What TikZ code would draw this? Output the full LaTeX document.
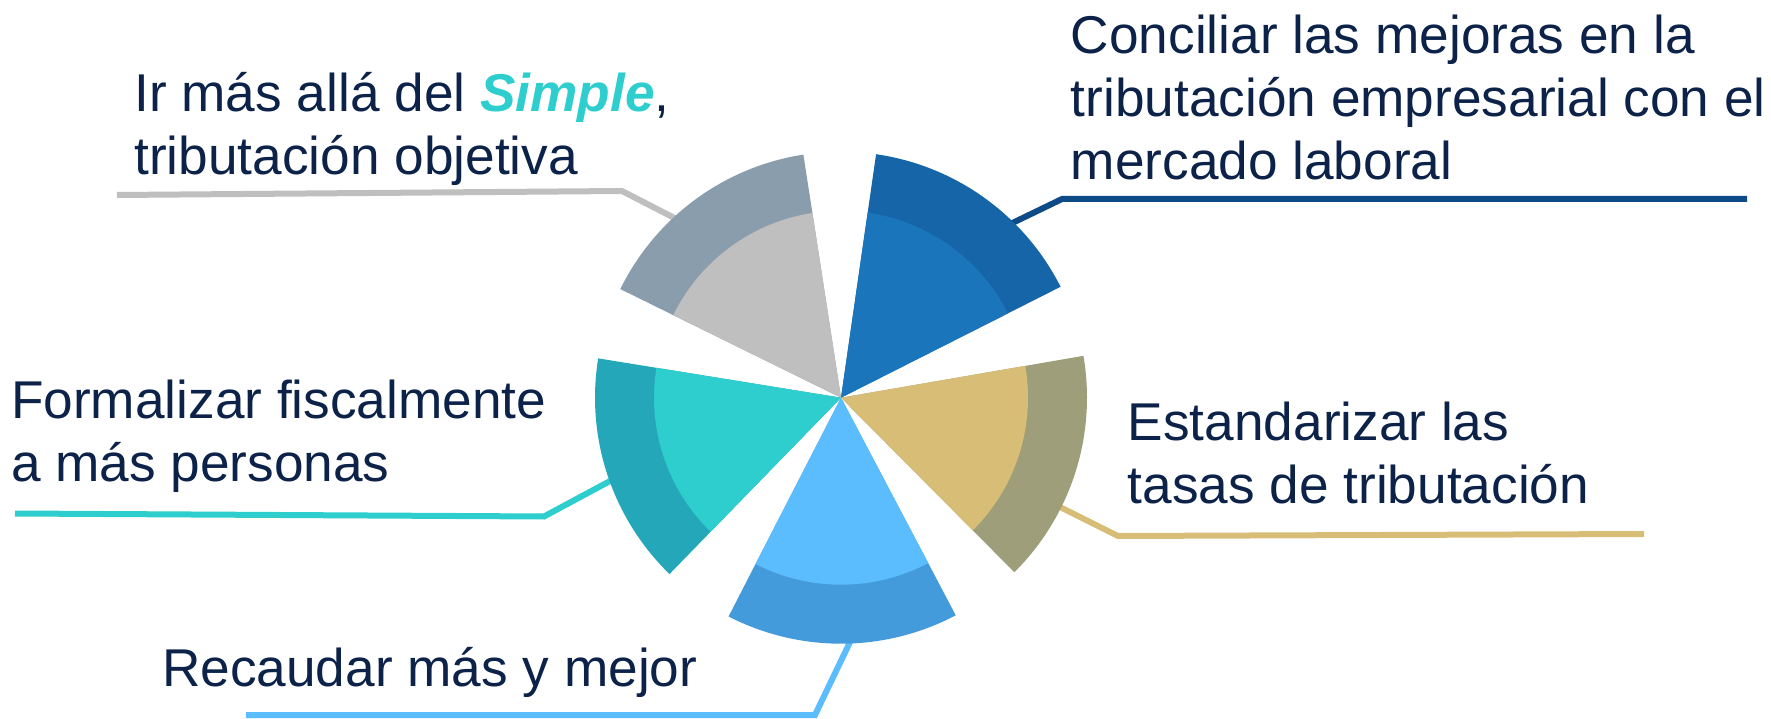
\documentclass[tikz,border=0pt]{standalone}
\usepackage{fontspec}
\setmainfont{Liberation Sans}

\definecolor{textnavy}{HTML}{0C2248}
\definecolor{conciliarout}{HTML}{1565A8}
\definecolor{conciliarin}{HTML}{1B75BB}
\definecolor{conciliarline}{HTML}{0D4A86}
\definecolor{simpleout}{HTML}{8A9DAD}
\definecolor{simplein}{HTML}{BFBFBF}
\definecolor{formalout}{HTML}{24A7B8}
\definecolor{formalin}{HTML}{2ECDCE}
\definecolor{recaudarout}{HTML}{449BDB}
\definecolor{recaudarin}{HTML}{5BBCFE}
\definecolor{tasasout}{HTML}{9E9E7A}
\definecolor{tasasin}{HTML}{D7BD76}

\tikzset{
	goaltext/.style={anchor=base west, inner sep=0pt, align=left, text=textnavy,
		font=\fontsize{26.6}{31.65}\selectfont},
	leader/.style={line width=3pt, line join=miter}
}

\begin{document}
\begin{tikzpicture}[x=0.5pt, y=0.5pt]
	\useasboundingbox (0,0) rectangle (1771,718);

	\coordinate (simple-a) at (117,523);
	\coordinate (simple-b) at (622,527);
	\coordinate (simple-c) at (690,492);
	\draw[leader, simplein] (simple-a) -- (simple-b) -- (simple-c);

	\coordinate (conciliar-a) at (1747,519);
	\coordinate (conciliar-b) at (1062,519);
	\coordinate (conciliar-c) at (1000,489);
	\draw[leader, conciliarline] (conciliar-a) -- (conciliar-b) -- (conciliar-c);

	\coordinate (formal-a) at (15,204.5);
	\coordinate (formal-b) at (544,201.5);
	\coordinate (formal-c) at (625,245);
	\draw[leader, formalin] (formal-a) -- (formal-b) -- (formal-c);

	\coordinate (recaudar-a) at (246,3);
	\coordinate (recaudar-b) at (815,3);
	\coordinate (recaudar-c) at (851,78);
	\draw[leader, recaudarin] (recaudar-a) -- (recaudar-b) -- (recaudar-c);

	\coordinate (tasas-a) at (1644,184);
	\coordinate (tasas-b) at (1118,182);
	\coordinate (tasas-c) at (1040,221);
	\draw[leader, tasasin] (tasas-a) -- (tasas-b) -- (tasas-c);

	\begin{scope}[shift={(841,320.3)}]
		\fill[conciliarout] (0,0) -- (26.8:246) arc[start angle=26.8, end angle=81.8, radius=246] -- cycle;
		\fill[conciliarin] (0,0) -- (26.8:187) arc[start angle=26.8, end angle=81.8, radius=187] -- cycle;

		\fill[simpleout] (0,0) -- (98.8:246) arc[start angle=98.8, end angle=153.8, radius=246] -- cycle;
		\fill[simplein] (0,0) -- (98.8:187) arc[start angle=98.8, end angle=153.8, radius=187] -- cycle;

		\fill[formalout] (0,0) -- (170.8:246) arc[start angle=170.8, end angle=225.8, radius=246] -- cycle;
		\fill[formalin] (0,0) -- (170.8:187) arc[start angle=170.8, end angle=225.8, radius=187] -- cycle;

		\fill[recaudarout] (0,0) -- (242.8:246) arc[start angle=242.8, end angle=297.8, radius=246] -- cycle;
		\fill[recaudarin] (0,0) -- (242.8:187) arc[start angle=242.8, end angle=297.8, radius=187] -- cycle;

		\fill[tasasout] (0,0) -- (314.8:246) arc[start angle=314.8, end angle=369.8, radius=246] -- cycle;
		\fill[tasasin] (0,0) -- (314.8:187) arc[start angle=314.8, end angle=369.8, radius=187] -- cycle;
	\end{scope}

	\node[goaltext] (simple) at (134,543)
		{Ir más allá del \textbf{\textit{\textcolor{formalin}{Simple}}},\\tributación objetiva};
	\node[goaltext] (conciliar) at (1070.5,538)
		{Conciliar las mejoras en la\\tributación empresarial con el\\mercado laboral};
	\node[goaltext] (formal) at (10.7,236.3)
		{Formalizar fiscalmente\\a más personas};
	\node[goaltext] (tasas) at (1127.4,214.7)
		{Estandarizar las\\tasas de tributación};
	\node[goaltext] (recaudar) at (161.7,31.3)
		{Recaudar más y mejor};
\end{tikzpicture}
\end{document}
